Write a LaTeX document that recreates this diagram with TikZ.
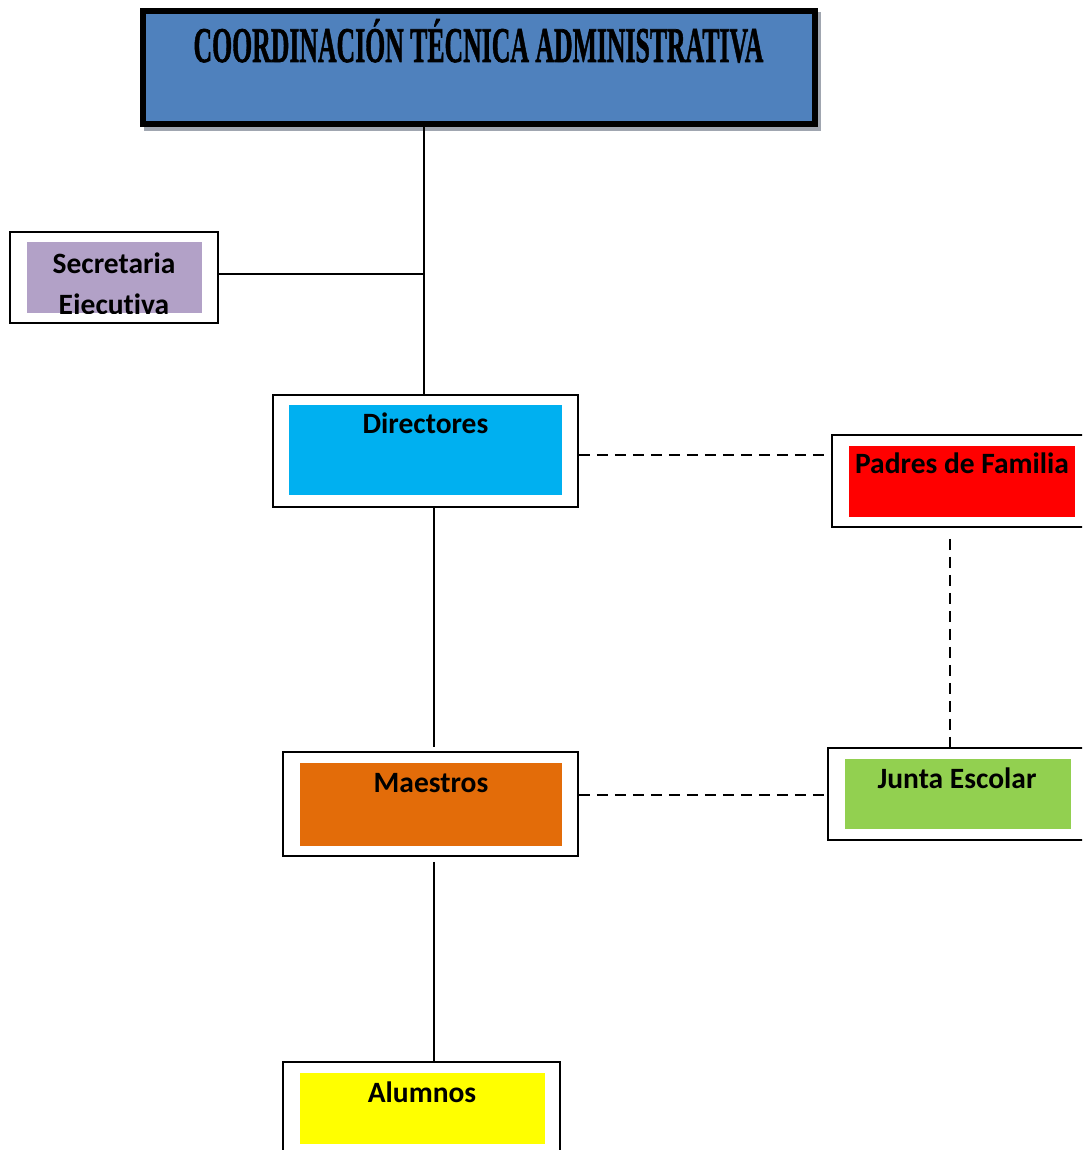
\documentclass[tikz,border=0pt]{standalone}
\usepackage{fontspec}
\setmainfont[Ligatures=NoCommon]{Carlito}
\newfontfamily\titlefont[BoldFeatures={FakeBold=1.5}]{Liberation Serif}
\usetikzlibrary{calc}
\definecolor{titleblue}{HTML}{4F81BD}
\definecolor{secpurple}{HTML}{B2A1C7}
\definecolor{dircyan}{HTML}{00B0F0}
\definecolor{padred}{HTML}{FF0000}
\definecolor{jungreen}{HTML}{92D050}
\definecolor{maeorange}{HTML}{E36C09}
\definecolor{aluyellow}{HTML}{FFFF00}
\definecolor{shadowgray}{HTML}{A0A6B0}
\tikzset{
  outerbox/.style={draw=black, line width=1.8pt, fill=white, inner sep=0pt},
  lbl/.style={anchor=base, inner sep=0pt, font=\fontsize{29.5}{35}\selectfont\bfseries},
  conn/.style={draw=black, line width=1.5pt},
  dconn/.style={draw=black, line width=1.5pt, dash pattern=on 11pt off 7pt},
}
\begin{document}
\begin{tikzpicture}[x=1pt,y=-1pt]
\clip (0,0) rectangle (1082,1150);
\fill[white] (0,0) rectangle (1082,1150);
% title
\fill[shadowgray] (144,12) rectangle (821,131);
\node[draw=black, line width=6pt, fill=titleblue, minimum width=672pt, minimum height=113pt, inner sep=0pt] (title) at (479,67.5) {};
\node[anchor=base, inner sep=0pt] (titletxt) at (478.5,62) {\scalebox{0.515}[1]{\titlefont\bfseries\fontsize{50}{50}\selectfont COORDINACIÓN TÉCNICA ADMINISTRATIVA}};
% secretaria
\node[outerbox, minimum width=208pt, minimum height=91pt] (sec) at (114,277.5) {};
\fill[secpurple] (27,242) rectangle (202,313);
\begin{scope}
\clip (27,242) rectangle (202,313);
\node[lbl] (sec1) at (114,273) {Secretaria};
\node[lbl] (sec2) at (114,314) {Ejecutiva};
\end{scope}
% directores
\node[outerbox, minimum width=305pt, minimum height=112pt] (dir) at (425.5,451) {};
\fill[dircyan] (289,405) rectangle (562,495);
\node[lbl] (dirt) at (425.5,433) {Directores};
% padres
\node[outerbox, minimum width=258pt, minimum height=92pt] (pad) at (961,481) {};
\fill[padred] (849,446) rectangle (1075,517);
\node[lbl] (padt) at (962,473) {Padres de Familia};
% junta
\node[outerbox, minimum width=262pt, minimum height=92pt] (jun) at (959,794) {};
\fill[jungreen] (845,759) rectangle (1071,829);
\node[lbl] (junt) at (957,788) {Junta Escolar};
% maestros
\node[outerbox, minimum width=295pt, minimum height=104pt] (mae) at (430.5,804) {};
\fill[maeorange] (300,763) rectangle (562,846);
\node[lbl] (maet) at (431,792) {Maestros};
% alumnos
\node[outerbox, minimum width=277pt, minimum height=110pt] (alu) at (421.5,1117) {};
\fill[aluyellow] (300,1073) rectangle (545,1144);
\node[lbl] (alut) at (422,1102) {Alumnos};
% connectors
\coordinate (vx) at (424,0);
\coordinate (dx) at (950,0);
\draw[conn] (title.south -| vx) -- (dir.north -| vx);
\draw[conn] (sec.east |- 0,274) -- (vx |- 0,274);
\draw[conn] ([xshift=8.5pt]dir.south) -- ([xshift=3.5pt,yshift=4pt]mae.north);
\draw[conn] ([xshift=3.5pt,yshift=-5pt]mae.south) -- ([xshift=12.5pt]alu.north);
\draw[dconn] (dir.east |- 0,455) -- (pad.west |- 0,455);
\draw[dconn] (mae.east |- 0,795) -- (jun.west |- 0,795);
\draw[dconn] ([yshift=-11pt]pad.south -| dx) -- (jun.north -| dx);
\end{tikzpicture}
\end{document}
